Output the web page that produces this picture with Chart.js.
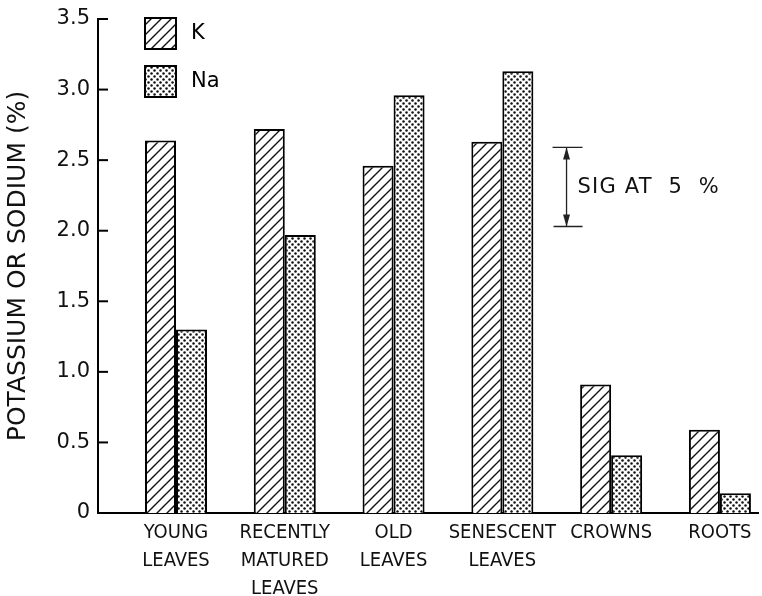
<!DOCTYPE html>
<html>
<head>
<meta charset="utf-8">
<script src="https://cdn.jsdelivr.net/npm/chart.js@4.4.1/dist/chart.umd.min.js"></script>
<style>
  html, body { margin: 0; padding: 0; background: #fff; }
  #wrap { width: 762px; height: 596px; }
</style>
</head>
<body>
<div id="wrap"><canvas id="c" width="762" height="596"></canvas></div>
<script>
// Plant parts sampled, with potassium and sodium contents (% of dry matter)
const categories = [
  ['YOUNG', 'LEAVES'],
  ['RECENTLY', 'MATURED', 'LEAVES'],
  ['OLD', 'LEAVES'],
  ['SENESCENT', 'LEAVES'],
  ['CROWNS'],
  ['ROOTS']
];
const potassium = [2.64, 2.72, 2.46, 2.63, 0.91, 0.59];
const sodium    = [1.30, 1.97, 2.96, 3.13, 0.41, 0.14];
const yTicks    = [0, 0.5, 1.0, 1.5, 2.0, 2.5, 3.0, 3.5];
// Least significant difference bar (P = 0.05)
const sigRange  = [2.03, 2.59];
const sigLabel  = 'SIG AT  5  %';

const FONT = '"DejaVu Sans", sans-serif';
const FONT_C = '"DejaVu Sans Condensed", "DejaVu Sans", sans-serif';

function hatchPattern() {
  const s = 10;
  const c = document.createElement('canvas');
  c.width = s; c.height = s;
  const g = c.getContext('2d');
  g.fillStyle = '#fff'; g.fillRect(0, 0, s, s);
  g.strokeStyle = '#111'; g.lineWidth = 1.4;
  g.beginPath();
  g.moveTo(-2, s + 2); g.lineTo(s + 2, -2);
  g.moveTo(-2, 2); g.lineTo(2, -2);
  g.moveTo(s - 2, s + 2); g.lineTo(s + 2, s - 2);
  g.stroke();
  return g.createPattern(c, 'repeat');
}

function dotPattern() {
  const s = 6;
  const c = document.createElement('canvas');
  c.width = s; c.height = s;
  const g = c.getContext('2d');
  g.fillStyle = '#fff'; g.fillRect(0, 0, s, s);
  g.fillStyle = '#111';
  [[1.5, 1.5], [4.5, 4.5]].forEach(([x, y]) => {
    g.beginPath(); g.arc(x, y, 1.25, 0, Math.PI * 2); g.fill();
  });
  return g.createPattern(c, 'repeat');
}

const kFill = hatchPattern();
const naFill = dotPattern();

const toPoints = vals => vals.map((v, i) => ({ x: i + 1, y: v }));

// Inward tick marks on the value axis
const inwardTicks = {
  id: 'inwardTicks',
  afterDraw(chart) {
    const { ctx, scales: { y }, chartArea } = chart;
    ctx.save();
    ctx.strokeStyle = '#000';
    ctx.lineWidth = 2;
    yTicks.forEach(v => {
      const py = y.getPixelForValue(v);
      ctx.beginPath();
      ctx.moveTo(chartArea.left, py);
      ctx.lineTo(chartArea.left + 10, py);
      ctx.stroke();
    });
    ctx.restore();
  }
};

// Legend swatches in the upper left of the plot
const boxLegend = {
  id: 'boxLegend',
  afterDraw(chart) {
    const { ctx, chartArea } = chart;
    ctx.save();
    const x0 = chartArea.left + 47;
    const items = chart.data.datasets;
    items.forEach((ds, i) => {
      const top = chartArea.top - 1 + i * 48;
      ctx.fillStyle = ds.backgroundColor;
      ctx.fillRect(x0, top, 31, 31);
      ctx.strokeStyle = '#000';
      ctx.lineWidth = 2;
      ctx.strokeRect(x0, top, 31, 31);
      ctx.fillStyle = '#000';
      ctx.font = '21px ' + FONT;
      ctx.textBaseline = 'middle';
      ctx.textAlign = 'left';
      ctx.fillText(ds.label, x0 + 46, top + 16);
    });
    ctx.restore();
  }
};

// Significance bracket with arrows
const sigBracket = {
  id: 'sigBracket',
  afterDraw(chart) {
    const { ctx, scales: { x, y } } = chart;
    const px = x.getPixelForValue(4.59);
    const yTop = y.getPixelForValue(sigRange[1]);
    const yBot = y.getPixelForValue(sigRange[0]);
    ctx.save();
    ctx.strokeStyle = '#222';
    ctx.fillStyle = '#222';
    ctx.lineWidth = 1.3;
    ctx.beginPath();
    ctx.moveTo(px - 14, yTop); ctx.lineTo(px + 16, yTop);
    ctx.moveTo(px - 13, yBot); ctx.lineTo(px + 16, yBot);
    ctx.moveTo(px, yTop); ctx.lineTo(px, yBot);
    ctx.stroke();
    const arrow = (tipY, dir) => {
      ctx.beginPath();
      ctx.moveTo(px, tipY);
      ctx.lineTo(px - 3.5, tipY + dir * 12);
      ctx.lineTo(px + 3.5, tipY + dir * 12);
      ctx.closePath();
      ctx.fill();
    };
    arrow(yTop, 1);
    arrow(yBot, -1);
    ctx.font = '21px ' + FONT;
    ctx.letterSpacing = '1.2px';
    ctx.textBaseline = 'middle';
    ctx.textAlign = 'left';
    ctx.fillStyle = '#111';
    ctx.fillText(sigLabel, px + 11, (yTop + yBot) / 2 + 1);
    ctx.restore();
  }
};

new Chart(document.getElementById('c'), {
  type: 'bar',
  data: {
    datasets: [
      {
        label: 'K',
        data: toPoints(potassium),
        backgroundColor: kFill,
        borderColor: '#000',
        borderWidth: 2,
        borderSkipped: 'bottom'
      },
      {
        label: 'Na',
        data: toPoints(sodium),
        backgroundColor: naFill,
        borderColor: '#000',
        borderWidth: 2,
        borderSkipped: 'bottom'
      }
    ]
  },
  options: {
    responsive: false,
    animation: false,
    devicePixelRatio: 1,
    layout: { padding: { top: 4, right: 4, left: 0, bottom: 0 } },
    datasets: {
      bar: { categoryPercentage: 0.57, barPercentage: 1.0 }
    },
    plugins: {
      legend: { display: false },
      tooltip: { enabled: false }
    },
    scales: {
      x: {
        type: 'linear',
        min: 0.283,
        max: 6.35,
        offset: false,
        grid: { display: false, offset: false },
        border: { display: true, color: '#000', width: 2 },
        afterBuildTicks(scale) {
          scale.ticks = categories.map((_, i) => ({ value: i + 1 }));
        },
        afterFit(scale) { scale.height = 83; },
        ticks: {
          autoSkip: false,
          maxRotation: 0,
          padding: -2,
          color: '#111',
          font: { family: FONT_C, size: 20, lineHeight: 1.4 },
          callback: v => categories[Math.round(v) - 1] || ''
        }
      },
      y: {
        min: 0,
        max: 3.5,
        grid: { display: false, drawTicks: false },
        border: { display: true, color: '#000', width: 2 },
        afterBuildTicks(scale) {
          scale.ticks = yTicks.map(v => ({ value: v }));
        },
        afterFit(scale) {
          scale.width = 98;
          scale.paddingTop = 19;
        },
        ticks: {
          padding: 8,
          color: '#111',
          font: { family: FONT, size: 21 },
          callback: v => (v === 0 ? '0' : v.toFixed(1))
        },
        title: {
          display: true,
          text: 'POTASSIUM OR SODIUM (%)',
          color: '#111',
          font: { family: FONT, size: 25 },
          padding: { top: 3, bottom: 0 }
        }
      }
    }
  },
  plugins: [inwardTicks, boxLegend, sigBracket]
});
</script>
</body>
</html>
